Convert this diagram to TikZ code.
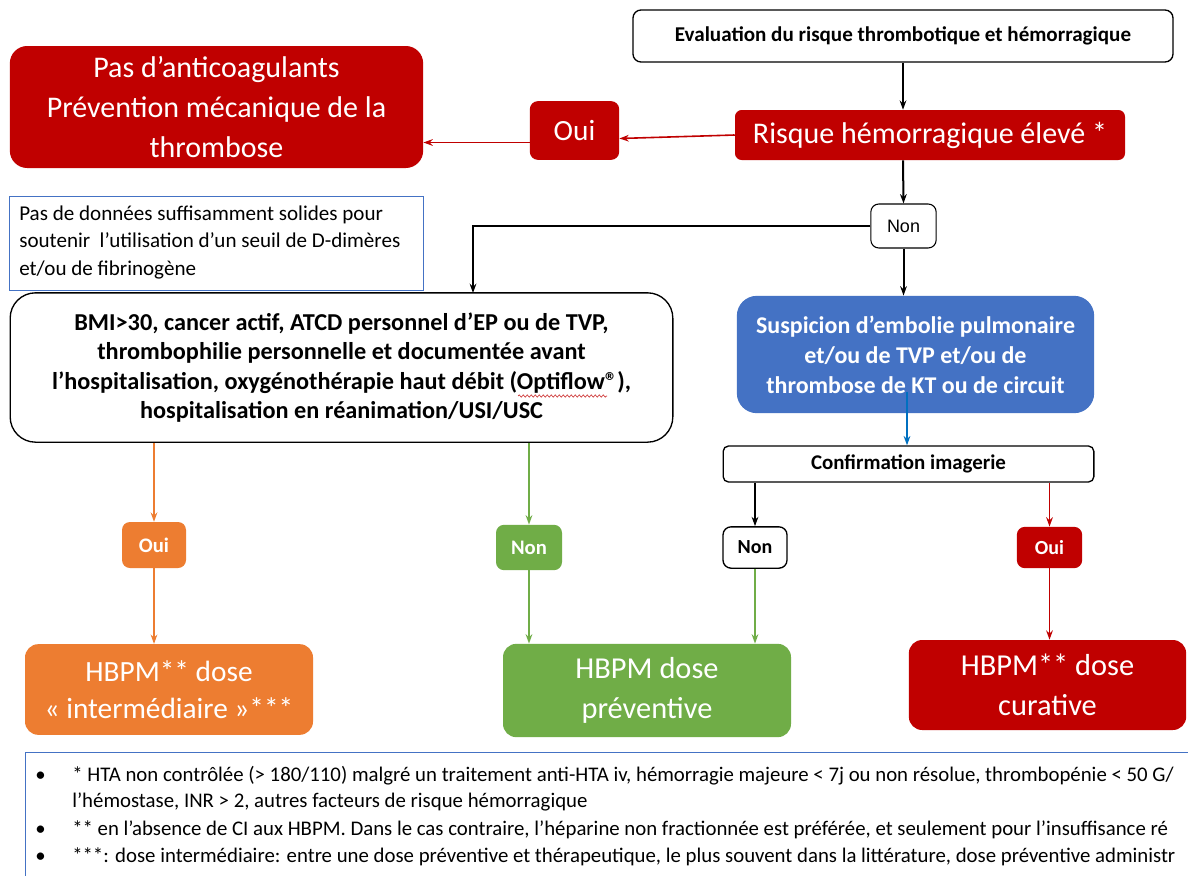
\documentclass[tikz,border=0pt]{standalone}
\usepackage{fontspec}
\setmainfont{Carlito}
\newfontfamily\arialf{Liberation Sans}
\usetikzlibrary{arrows.meta,decorations.pathmorphing}
\definecolor{cred}{HTML}{C00000}
\definecolor{corange}{HTML}{ED7D31}
\definecolor{cgreen}{HTML}{70AD47}
\definecolor{cblue}{HTML}{4472C4}
\definecolor{carrowblue}{HTML}{0070C0}
\tikzset{
  box/.style={draw, rounded corners=6pt, inner sep=0pt, align=center, line width=1pt},
  fillbox/.style={fill=#1, draw=none, rounded corners=9pt, inner sep=0pt, align=center, text=white},
  arr/.style={-{Stealth[length=7pt,width=5pt]}, line width=1.5pt},
  carr/.style={-{Stealth[length=7pt,width=5pt]}, line width=1.2pt, draw=#1},
}
\begin{document}
\begin{tikzpicture}[x=0.75pt,y=-0.75pt]
\useasboundingbox (0,0) rectangle (1188,875);
\fill[white] (0,0) rectangle (1188,875);

% top
\node[box, minimum width=405pt, minimum height=39pt, font=\bfseries\fontsize{15.8}{18}\selectfont] (eval) at (903,36) {Evaluation du risque thrombotique et hémorragique};
\node[fillbox=cred, rounded corners=13pt, minimum width=310pt, minimum height=91.5pt, font=\fontsize{22.5}{30}\selectfont] (pas) at (216.5,107) {Pas d’anticoagulants\\Prévention mécanique de la\\thrombose};
\node[fillbox=cred, rounded corners=6pt, minimum width=67pt, minimum height=44pt, font=\fontsize{22}{24}\selectfont] (oui1) at (574.5,130.5) {Oui};
\node[fillbox=cred, rounded corners=5pt, minimum width=292.5pt, minimum height=37.5pt, font=\fontsize{22.5}{24}\selectfont] (risque) at (930,135) {Risque hémorragique élevé *};
\node[box, draw, line width=0.8pt, minimum width=49pt, minimum height=33pt, font=\arialf\fontsize{13.5}{15}\selectfont] (non1) at (903.5,226) {Non};

% note
\node[draw=cblue, line width=0.7pt, minimum width=310pt, minimum height=70pt, inner sep=0pt] (note) at (216.5,243.5) {};
\node[anchor=north west, align=left, inner sep=0pt, font=\fontsize{15.8}{20.3}\selectfont] (notetxt) at (19,206) {Pas de données suffisamment solides pour\\soutenir\ \ l’utilisation d’un seuil de D-dimères\\et/ou de fibrinogène};

% BMI box
\node[box, fill=white, rounded corners=19pt, minimum width=497pt, minimum height=112pt, font=\bfseries\fontsize{18.2}{22.2}\selectfont] (bmi) at (341.5,367.5) {BMI>30, cancer actif, ATCD personnel d’EP ou de TVP,\\thrombophilie personnelle et documentée avant\\l’hospitalisation, oxygénothérapie haut débit (Optiflow®),\\hospitalisation en réanimation/USI/USC};
\draw[draw=cblue, line width=0.7pt] (note.south west) -- (note.south east);

% blue box
\node[fillbox=cblue, rounded corners=15pt, minimum width=268pt, minimum height=88pt, font=\bfseries\fontsize{18}{22.5}\selectfont] (susp) at (915.5,354.5) {Suspicion d’embolie pulmonaire\\et/ou de TVP et/ou de\\thrombose de KT ou de circuit};
\node[box, line width=1pt, rounded corners=4pt, minimum width=278pt, minimum height=27pt, font=\bfseries\fontsize{15.7}{17}\selectfont] (conf) at (908.5,464) {Confirmation imagerie};

\node[box, line width=1pt, minimum width=48pt, minimum height=31pt, font=\bfseries\fontsize{15}{17}\selectfont] (non2) at (755,547.5) {Non};
\node[fillbox=cred, rounded corners=6pt, minimum width=49pt, minimum height=31pt, font=\bfseries\fontsize{15}{17}\selectfont] (oui2) at (1049.5,547.5) {Oui};
\node[fillbox=corange, rounded corners=6pt, minimum width=48pt, minimum height=34.5pt, font=\bfseries\fontsize{15.5}{17}\selectfont] (oui3) at (154,545) {Oui};
\node[fillbox=cgreen, rounded corners=6pt, minimum width=49.5pt, minimum height=34pt, font=\bfseries\fontsize{15.5}{17}\selectfont] (non3) at (529,547.5) {Non};

% bottom boxes
\node[fillbox=corange, rounded corners=10pt, minimum width=216pt, minimum height=68pt, font=\fontsize{22}{28}\selectfont] (inter) at (169,689.5) {HBPM** dose\\« intermédiaire »***};
\node[fillbox=cgreen, rounded corners=10pt, minimum width=216pt, minimum height=70pt, font=\fontsize{22.8}{30}\selectfont] (prev) at (647,690.5) {HBPM dose\\préventive};
\node[fillbox=cred, rounded corners=10pt, minimum width=208pt, minimum height=67.5pt, font=\fontsize{22.8}{30}\selectfont] (cur) at (1047.5,685) {HBPM** dose\\curative};

% spell-check squiggle
\draw[cred!80, line width=0.5pt, decorate, decoration={snake, amplitude=0.8pt, segment length=3pt}] (518,396) -- (607,396);

% connectors
\draw[arr] (eval.south) -- (eval.south |- risque.north);
\draw[carr=cred] (risque.west) -- ([yshift=-6pt]oui1.east);
\draw[carr=cred] ([yshift=-9pt]oui1.west) -- ([yshift=-9pt]oui1.west -| pas.east);
\draw[arr] (eval.south |- risque.south) -- (non1.north);
\coordinate (bmitop) at (473,293);
\draw[arr] (non1.west) -| (bmitop);
\draw[arr] (non1.south) -- (non1.south |- susp.north);
\coordinate (bluestart) at (907,392);
\draw[carr=carrowblue] (bluestart) -- (bluestart |- conf.north);
\draw[arr] (non2.north |- conf.south) -- (non2.north);
\draw[carr=cred] (oui2.north |- conf.south) -- (oui2.north);
\draw[carr=cred] (oui2.south) -- (oui2.south |- cur.north);
\draw[carr=cgreen] (non2.south) -- (non2.south |- prev.north);
\draw[carr=corange] (oui3.north |- bmi.south) -- (oui3.north);
\draw[carr=corange] (oui3.south) -- (oui3.south |- inter.north);
\draw[carr=cgreen] (non3.north |- bmi.south) -- (non3.north);
\draw[carr=cgreen] (non3.south) -- (non3.south |- prev.north);

% footnotes
\begin{scope}
\clip (0,0) rectangle (1188,875);
\node[draw=cblue, line width=0.8pt, minimum width=900pt, minimum height=100pt, inner sep=0pt, anchor=north west] (foot) at (25,752) {};
\begin{scope}[every node/.style={anchor=base west, inner sep=0pt, font=\fontsize{15.6}{17}\selectfont}]
\node (b1) at (35,781) {•};
\node (f1) at (72,781) {* HTA non contrôlée (> 180/110) malgré un traitement anti-HTA iv, hémorragie majeure < 7j ou non résolue, thrombopénie < 50 G/};
\node (f1b) at (72,807) {l’hémostase, INR > 2, autres facteurs de risque hémorragique};
\node (b2) at (35,835) {•};
\node (f2) at (72,835) {** en l’absence de CI aux HBPM. Dans le cas contraire, l’héparine non fractionnée est préférée, et seulement pour l’insuffisance ré};
\node (b3) at (35,862) {•};
\node (f3) at (72,862) {***: dose intermédiaire: entre une dose préventive et thérapeutique, le plus souvent dans la littérature, dose préventive administr};
\end{scope}
\end{scope}
\end{tikzpicture}
\end{document}
